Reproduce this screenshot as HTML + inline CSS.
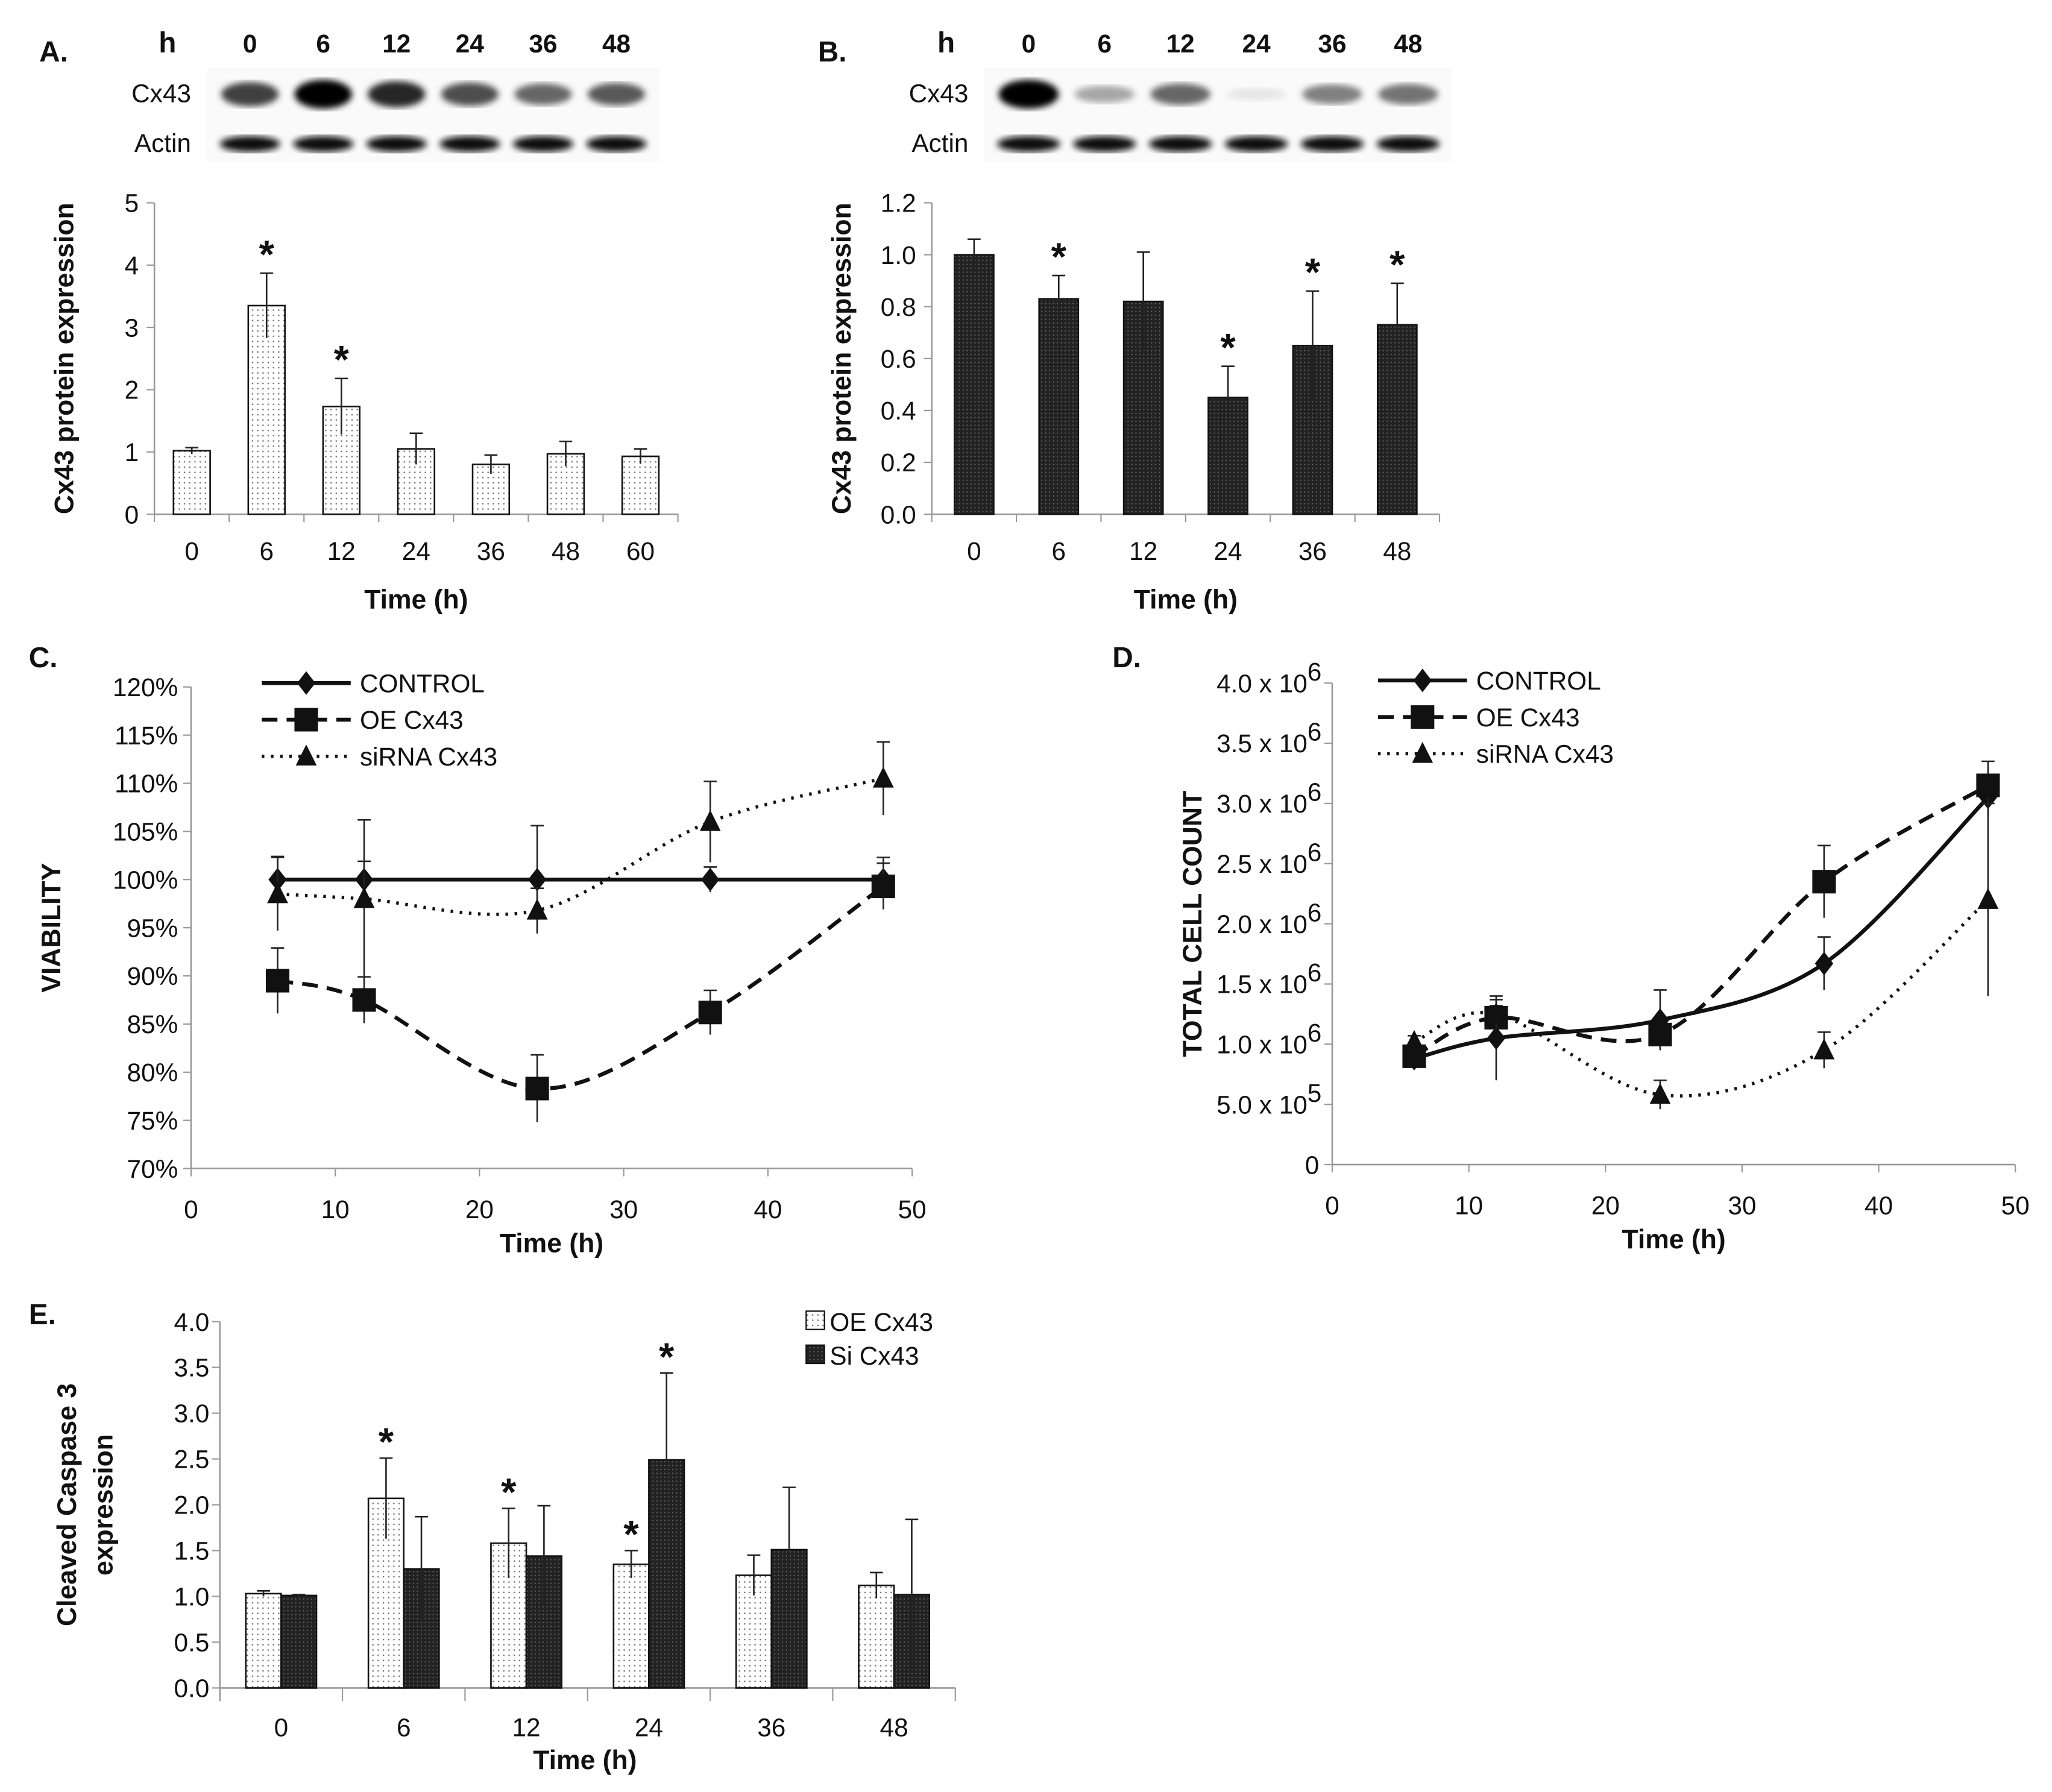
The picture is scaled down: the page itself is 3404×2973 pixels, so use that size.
<!DOCTYPE html>
<html><head><meta charset="utf-8"><style>
html,body{margin:0;padding:0;background:#fff;}
svg{display:block;}
text{font-family:"Liberation Sans",sans-serif;fill:#111;}
.tk{font-size:19.5px;}
.ttl{font-size:20.5px;font-weight:bold;}
.pl{font-size:22px;font-weight:bold;}
</style></head><body>
<svg id="fig" width="3404" height="2973" viewBox="0 0 1568 1369.5" preserveAspectRatio="none" xmlns="http://www.w3.org/2000/svg">
<defs>
<pattern id="dots" width="4" height="4" patternUnits="userSpaceOnUse"><rect width="4" height="4" fill="#fff"/><circle cx="1" cy="1" r="0.6" fill="#777"/></pattern>
<pattern id="dark" width="3" height="3" patternUnits="userSpaceOnUse"><rect width="3" height="3" fill="#222"/><circle cx="1" cy="1" r="0.5" fill="#666"/></pattern>
<filter id="blur"><feGaussianBlur stdDeviation="2.5"/></filter>
</defs>
<g id="root"></g>
</svg>
<script>
// ---- Panel A data ----
const aCats=["0","6","12","24","36","48","60"];
const aVals=[1.02,3.35,1.73,1.05,0.8,0.97,0.93];
const aErr=[0.05,0.52,0.45,0.25,0.15,0.2,0.12];
const aStar=[false,true,true,false,false,false,false];
const aTicks=[0,1,2,3,4,5];
// ---- Panel B data ----
const bCats=["0","6","12","24","36","48"];
const bVals=[1.0,0.83,0.82,0.45,0.65,0.73];
const bErr=[0.06,0.09,0.19,0.12,0.21,0.16];
const bStar=[false,true,false,true,true,true];
const bTicks=["0.0","0.2","0.4","0.6","0.8","1.0","1.2"];
// ---- Panel C data ----
const cX=[6,12,24,36,48];
const cControl=[100,100,100,100,100];
const cControlErr=[2.4,1.9,5.6,1.3,2.3];
const cOE=[89.5,87.5,78.3,86.2,99.3];
const cOEErr=[3.4,2.4,3.5,2.3,2.4];
const cSi=[98.5,98,96.8,106,110.5];
const cSiErr=[3.8,8.2,2.3,4.2,3.8];
const cYTicks=[70,75,80,85,90,95,100,105,110,115,120];
const cXTicks=[0,10,20,30,40,50];
// ---- Panel D data (x 1e6) ----
const dX=[6,12,24,36,48];
const dControl=[0.88,1.05,1.2,1.67,3.05];
const dControlErr=[0.05,0.35,0.25,0.22,0.15];
const dOE=[0.9,1.22,1.08,2.35,3.15];
const dOEErr=[0.05,0.1,0.08,0.3,0.2];
const dSi=[1.02,1.25,0.58,0.95,2.2];
const dSiErr=[0.05,0.12,0.12,0.15,0.8];
const dYTicks=[0,0.5,1.0,1.5,2.0,2.5,3.0,3.5,4.0];
const dYLabels=["0","5.0 x 10","1.0 x 10","1.5 x 10","2.0 x 10","2.5 x 10","3.0 x 10","3.5 x 10","4.0 x 10"];
const dYExp=["","5","6","6","6","6","6","6","6"];
// ---- Panel E data ----
const eCats=["0","6","12","24","36","48"];
const eOE=[1.03,2.07,1.58,1.35,1.23,1.12];
const eOEErr=[0.03,0.44,0.38,0.15,0.22,0.14];
const eSi=[1.01,1.3,1.44,2.49,1.51,1.02];
const eSiErr=[0.01,0.57,0.55,0.95,0.68,0.82];
const eOEStar=[false,true,true,true,false,false];
const eSiStar=[false,false,false,true,false,false];
const eTicks=["0.0","0.5","1.0","1.5","2.0","2.5","3.0","3.5","4.0"];
// ---- Blot intensities ----
const blotA=[0.75,1.0,0.85,0.7,0.6,0.65];
const blotB=[1.0,0.35,0.6,0.1,0.5,0.55];

const NS="http://www.w3.org/2000/svg";
const root=document.getElementById('root');
function el(tag,attrs,parent,txt){const e=document.createElementNS(NS,tag);for(const k in attrs)e.setAttribute(k,attrs[k]);if(txt!==undefined)e.textContent=txt;(parent||root).appendChild(e);return e;}
function grp(name){const g=el('g',{});


return g;}
function txt(g,x,y,s,cls,anchor,name,extra){const t=el('text',Object.assign({x:x,y:y,class:cls,'text-anchor':anchor||'middle'},extra||{}),g,s);


return t;}
function errbar(g,x,y1,y2,w){el('line',{x1:x,x2:x,y1:y1,y2:y2,stroke:'#222','stroke-width':1.2},g);el('line',{x1:x-w,x2:x+w,y1:y2,y2:y2,stroke:'#222','stroke-width':1.2},g);}
function star(g,x,y){const t=el('text',{x:x,y:y,'text-anchor':'middle','font-size':30,'font-weight':'bold'},g,'*');

}

function barChart(name,ax0,axX1,y0,yTop,vmax,ticks,tickVals,cats,cx,vals,err,stars,fill,bw,ytitle){
  const g=grp(name);
  const Y=v=>y0-(v/vmax)*(y0-yTop);
  el('line',{x1:ax0,x2:ax0,y1:yTop,y2:y0,stroke:'#999','stroke-width':1.2},g);
  el('line',{x1:ax0,x2:axX1,y1:y0,y2:y0,stroke:'#999','stroke-width':1.2},g);
  ticks.forEach((t,i)=>{const y=Y(tickVals[i]);el('line',{x1:ax0-6,x2:ax0,y1:y,y2:y,stroke:'#999'},g);txt(g,ax0-12,y+7,String(t),'tk','end','y-tick-label');});
  const step=(axX1-ax0)/cats.length;
  for(let i=0;i<=cats.length;i++){const x=ax0+i*step;el('line',{x1:x,x2:x,y1:y0,y2:y0+6,stroke:'#999'},g);}
  cats.forEach((c,i)=>{const x=ax0+step*(i+0.5);
    const r=el('rect',{x:x-bw/2,y:Y(vals[i]),width:bw,height:y0-Y(vals[i]),fill:fill,stroke:'#111','stroke-width':1.2},g);
    
    
    errbar(g,x,Y(vals[i]-err[i]),Y(vals[i]+err[i]),5);
    if(stars[i])star(g,x,Y(vals[i]+err[i])-4);
    txt(g,x,y0+35,c,'tk','middle','x-tick-label');
  });
  txt(g,(ax0+axX1)/2,y0+72,'Time (h)','ttl','middle','x-axis-title');
  txt(g,0,0,ytitle,'ttl','middle','y-axis-title',{transform:`translate(${ax0-62},${(y0+yTop)/2}) rotate(-90)`,'font-size':22});
  return g;
}
barChart('panel-a-chart',118,518,393,155,5,[0,1,2,3,4,5],[0,1,2,3,4,5],aCats,null,aVals,aErr,aStar,'url(#dots)',28,'Cx43 protein expression');
barChart('panel-b-chart',712,1100,393,155,1.2,bTicks,[0,0.2,0.4,0.6,0.8,1.0,1.2],bCats,null,bVals,bErr,bStar,'url(#dark)',30,'Cx43 protein expression');

function blot(name,x0,lanes,w,gap,ints,hx,labelX,nums){
  const g=grp(name);
  el('rect',{x:x0-8,y:52,width:lanes*w+(lanes-1)*gap+16,height:72,fill:'#fafafa'},g);
  txt(g,hx,40,'h','pl','middle','lane-header');
  ints.forEach((v,i)=>{const x=x0+i*(w+gap)+w/2;
    txt(g,x,40,nums[i],'tk','middle','lane-label',{'font-weight':'bold','font-size':16});
    const c=Math.round(255*(1-v));
    el('ellipse',{cx:x,cy:72,rx:w/2-3,ry:4+v*7,fill:`rgb(${c},${c},${c})`,filter:'url(#blur)'},g);
    el('ellipse',{cx:x,cy:110,rx:w/2-2,ry:6,fill:'#111',filter:'url(#blur)'},g);
  });
  txt(g,labelX,78,'Cx43','tk','end','cx43-row-label',{'font-size':16});
  txt(g,labelX,116,'Actin','tk','end','actin-row-label',{'font-size':16});
}
const nums=["0","6","12","24","36","48"];
blot('panel-a-blot',166,6,50,6,blotA,128,146,nums);
blot('panel-b-blot',760,6,52,6,blotB,723,740,nums);
[['A.',30,47],['B.',625,47],['C.',22,510],['D.',850,510],['E.',22,1012]].forEach(p=>{txt(root,p[1],p[2],p[0],'pl','start','panel-label-'+p[0][0].toLowerCase());});

function smooth(pts){let d=`M${pts[0][0]},${pts[0][1]}`;for(let i=0;i<pts.length-1;i++){const p0=pts[Math.max(i-1,0)],p1=pts[i],p2=pts[i+1],p3=pts[Math.min(i+2,pts.length-1)];
 d+=` C${p1[0]+(p2[0]-p0[0])/6},${p1[1]+(p2[1]-p0[1])/6} ${p2[0]-(p3[0]-p1[0])/6},${p2[1]-(p3[1]-p1[1])/6} ${p2[0]},${p2[1]}`;}return d;}
function marker(g,type,x,y){
  let m;
  if(type==='d')m=el('polygon',{points:`${x},${y-9} ${x+7},${y} ${x},${y+9} ${x-7},${y}`,fill:'#111'},g);
  else if(type==='s')m=el('rect',{x:x-9,y:y-9,width:18,height:18,fill:'#111'},g);
  else m=el('polygon',{points:`${x},${y-9} ${x+8},${y+7} ${x-8},${y+7}`,fill:'#111'},g);
  
  
}
function lineChart(name,x0,x1,y0,y1,ymin,ymax,xs,series,yTicks,yLab,ytitle,legX,legY){
  const g=grp(name);
  const X=v=>x0+(v/50)*(x1-x0), Y=v=>y0-(v-ymin)/(ymax-ymin)*(y0-y1);
  el('line',{x1:x0,x2:x0,y1:y1,y2:y0,stroke:'#999','stroke-width':1.2},g);
  el('line',{x1:x0,x2:x1,y1:y0,y2:y0,stroke:'#999','stroke-width':1.2},g);
  yTicks.forEach((t,i)=>{const y=Y(t);el('line',{x1:x0-6,x2:x0,y1:y,y2:y,stroke:'#999'},g);yLab(g,x0-10,y+7,i);});
  cXTicks.forEach(t=>{const x=X(t);el('line',{x1:x,x2:x,y1:y0,y2:y0+6,stroke:'#999'},g);txt(g,x,y0+38,String(t),'tk','middle','x-tick-label');});
  txt(g,(x0+x1)/2,y0+64,'Time (h)','ttl','middle','x-axis-title');
  txt(g,0,0,ytitle,'ttl','middle','y-axis-title',{transform:`translate(${x0-100},${(y0+y1)/2}) rotate(-90)`});
  series.forEach((s,k)=>{
    const sg=el('g',{},g);
    
    
    const pts=xs.map((x,i)=>[X(x),Y(s.v[i])]);
    el('path',{d:smooth(pts),fill:'none',stroke:'#111','stroke-width':s.w,'stroke-dasharray':s.dash},sg);
    xs.forEach((x,i)=>{errbar(sg,X(x),Y(s.v[i]-s.e[i]),Y(s.v[i]+s.e[i]),5);});
    xs.forEach((x,i)=>marker(sg,s.m,X(x),Y(s.v[i])));
    const ly=legY+k*28;
    const lg=el('g',{},g);
    
    
    el('line',{x1:legX,x2:legX+68,y1:ly,y2:ly,stroke:'#111','stroke-width':s.w,'stroke-dasharray':s.dash},lg);
    marker(lg,s.m,legX+34,ly);
    txt(lg,legX+75,ly+7,s.name,'tk','start','legend-label');
  });
}
lineChart('panel-c-chart',146,697,893,525,70,120,cX,[
  {name:'CONTROL',v:cControl,e:cControlErr,m:'d',w:3,dash:''},
  {name:'OE Cx43',v:cOE,e:cOEErr,m:'s',w:3,dash:'12,7'},
  {name:'siRNA Cx43',v:cSi,e:cSiErr,m:'t',w:2.5,dash:'2,5'}],
  cYTicks,(g,x,y,i)=>txt(g,x,y,cYTicks[i]+'%','tk','end','y-tick-label'),'VIABILITY',200,522);
lineChart('panel-d-chart',1018,1540,890,522,0,4,dX,[
  {name:'CONTROL',v:dControl,e:dControlErr,m:'d',w:3,dash:''},
  {name:'OE Cx43',v:dOE,e:dOEErr,m:'s',w:3,dash:'12,7'},
  {name:'siRNA Cx43',v:dSi,e:dSiErr,m:'t',w:2.5,dash:'2,5'}],
  dYTicks,(g,x,y,i)=>{txt(g,x-(dYExp[i]?9:0),y,dYLabels[i],'tk','end','y-tick-label');if(dYExp[i])txt(g,x-9,y-9,dYExp[i],'tk','start','y-tick-exponent',{'font-size':12});},'TOTAL CELL COUNT',1053,520);

(function(){
  const g=grp('panel-e-chart');
  const x0=168,x1=730,y0=1290,y1=1010;
  const Y=v=>y0-(v/4)*(y0-y1);
  el('line',{x1:x0,x2:x0,y1:y1,y2:y0+10,stroke:'#999','stroke-width':1.2},g);
  el('line',{x1:x0,x2:x1,y1:y0,y2:y0,stroke:'#999','stroke-width':1.2},g);
  eTicks.forEach((t,i)=>{const y=Y(i*0.5);el('line',{x1:x0-6,x2:x0,y1:y,y2:y,stroke:'#999'},g);txt(g,x0-8,y+7,t,'tk','end','y-tick-label');});
  const step=(x1-x0)/eCats.length,bw=27;
  for(let i=0;i<=eCats.length;i++){const x=x0+i*step;el('line',{x1:x,x2:x,y1:y0,y2:y0+10,stroke:'#999'},g);}
  eCats.forEach((c,i)=>{const cx=x0+step*(i+0.5);
    [[eOE,eOEErr,eOEStar,'url(#dots)',cx-bw/2],[eSi,eSiErr,eSiStar,'url(#dark)',cx+bw/2]].forEach((s,k)=>{
      const v=s[0][i],e=s[1][i],x=s[4];
      const r=el('rect',{x:x-bw/2,y:Y(v),width:bw,height:y0-Y(v),fill:s[3],stroke:'#111','stroke-width':1.2},g);
      
      
      errbar(g,x,Y(v-e),Y(v+e),5);
      if(s[2][i])star(g,x,Y(v+e)-2);
    });
    txt(g,cx,y0+37,c,'tk','middle','x-tick-label');
  });
  txt(g,447,1352,'Time (h)','ttl','middle','x-axis-title');
  txt(g,0,0,'Cleaved Caspase 3','ttl','middle','y-axis-title',{transform:`translate(58,1150) rotate(-90)`,'font-size':22});
  txt(g,0,0,'expression','ttl','middle','y-axis-title-2',{transform:`translate(86,1150) rotate(-90)`,'font-size':22});
  [['OE Cx43','url(#dots)',1010],['Si Cx43','url(#dark)',1036]].forEach(l=>{
    const lg=el('g',{},g);
    
    
    el('rect',{x:616,y:l[2]-8,width:14,height:14,fill:l[1],stroke:'#111'},lg);
    txt(lg,634,l[2]+7,l[0],'tk','start','legend-label');
  });
})();
</script>
</body></html>
